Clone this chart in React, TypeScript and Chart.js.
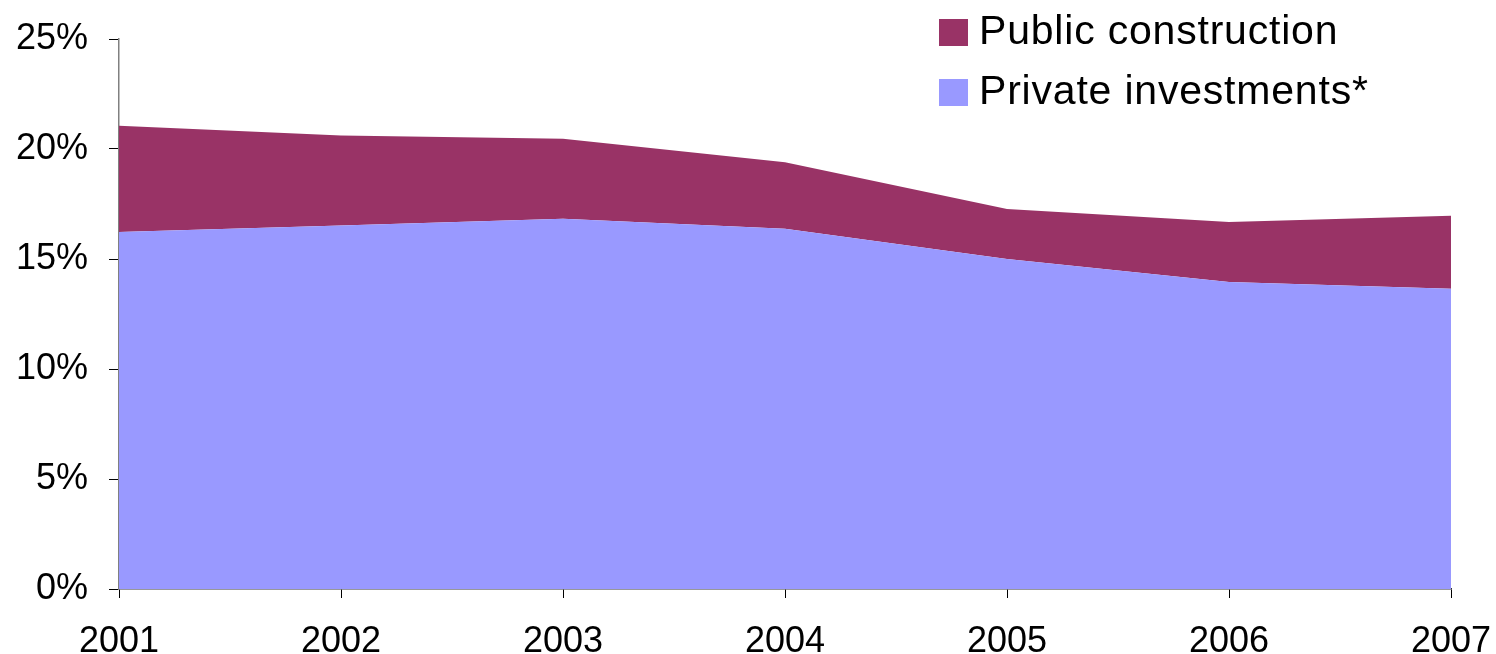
import React, { useEffect, useRef } from "react";
import { Chart, registerables } from "chart.js";

Chart.register(...registerables);

const years = ["2001", "2002", "2003", "2004", "2005", "2006", "2007"];
const privateInvestments = [16.23, 16.52, 16.83, 16.38, 15.0, 13.95, 13.65];
const publicConstruction = [4.83, 4.09, 3.64, 3.02, 2.27, 2.73, 3.32];
const yTicks = [0, 5, 10, 15, 20, 25];

const PUBLIC_COLOR = "#993366";
const PRIVATE_COLOR = "#9999FF";
const FONT = "Liberation Sans, Arial, sans-serif";

const legendPlugin = {
  id: "customLegend",
  afterDraw(chart: any) {
    const ctx = chart.ctx;
    const items = [
      { label: "Public construction", color: PUBLIC_COLOR, y: 19 },
      { label: "Private investments*", color: PRIVATE_COLOR, y: 79 },
    ];
    ctx.save();
    ctx.font = `41px ${FONT}`;
    try {
      (ctx as any).letterSpacing = "0.8px";
    } catch (e) {}
    ctx.textBaseline = "alphabetic";
    ctx.textAlign = "left";
    for (const it of items) {
      ctx.fillStyle = it.color;
      ctx.fillRect(939, it.y, 29, 27);
      ctx.fillStyle = "#000";
      ctx.fillText(it.label, 979, it.y + 25);
    }
    ctx.restore();
  },
};

function zeroPadding(scale: any) {
  scale.paddingLeft = 0;
  scale.paddingRight = 0;
  scale.paddingTop = 0;
  scale.paddingBottom = 0;
}

export default function App() {
  const ref = useRef<HTMLCanvasElement | null>(null);
  useEffect(() => {
    if (!ref.current) return;
    const chart = new Chart(ref.current, {
      type: "line",
      data: {
        labels: years,
        datasets: [
          {
            label: "Private investments*",
            data: privateInvestments,
            backgroundColor: PRIVATE_COLOR,
            borderColor: PRIVATE_COLOR,
            borderWidth: 0,
            pointRadius: 0,
            fill: "origin",
            tension: 0,
          },
          {
            label: "Public construction",
            data: publicConstruction,
            backgroundColor: PUBLIC_COLOR,
            borderColor: PUBLIC_COLOR,
            borderWidth: 0,
            pointRadius: 0,
            fill: "-1",
            tension: 0,
          },
        ],
      },
      options: {
        animation: false,
        responsive: false,
        maintainAspectRatio: false,
        layout: { padding: { top: 39, right: 45, left: 0, bottom: 0 } },
        plugins: { legend: { display: false }, tooltip: { enabled: false } },
        scales: {
          x: {
            offset: false,
            grid: {
              display: true,
              drawOnChartArea: false,
              drawTicks: true,
              tickLength: 9,
              color: "#000",
            },
            border: { display: true, color: "#333", width: 1.5 },
            ticks: {
              color: "#000",
              font: { family: FONT, size: 36 },
              padding: 22,
              maxRotation: 0,
            },
            afterFit(scale: any) {
              scale.height = 65;
              zeroPadding(scale);
            },
          },
          y: {
            stacked: true,
            min: 0,
            max: 25,
            afterBuildTicks(scale: any) {
              scale.ticks = yTicks.map((v) => ({ value: v }));
            },
            grid: {
              display: true,
              drawOnChartArea: false,
              drawTicks: true,
              tickLength: 10,
              color: "#000",
            },
            border: { display: true, color: "#808080", width: 1.5 },
            ticks: {
              color: "#000",
              font: { family: FONT, size: 36 },
              padding: 21,
              callback: (v: any) => `${v}%`,
            },
            afterFit(scale: any) {
              scale.width = 119;
              zeroPadding(scale);
            },
          },
        },
      },
      plugins: [legendPlugin],
    });
    return () => chart.destroy();
  }, []);
  return (
    <div style={{ position: "fixed", left: 0, top: 0, width: 1496, height: 654, background: "#fff" }}>
      <canvas ref={ref} width={1496} height={654} style={{ width: 1496, height: 654 }} />
    </div>
  );
}
